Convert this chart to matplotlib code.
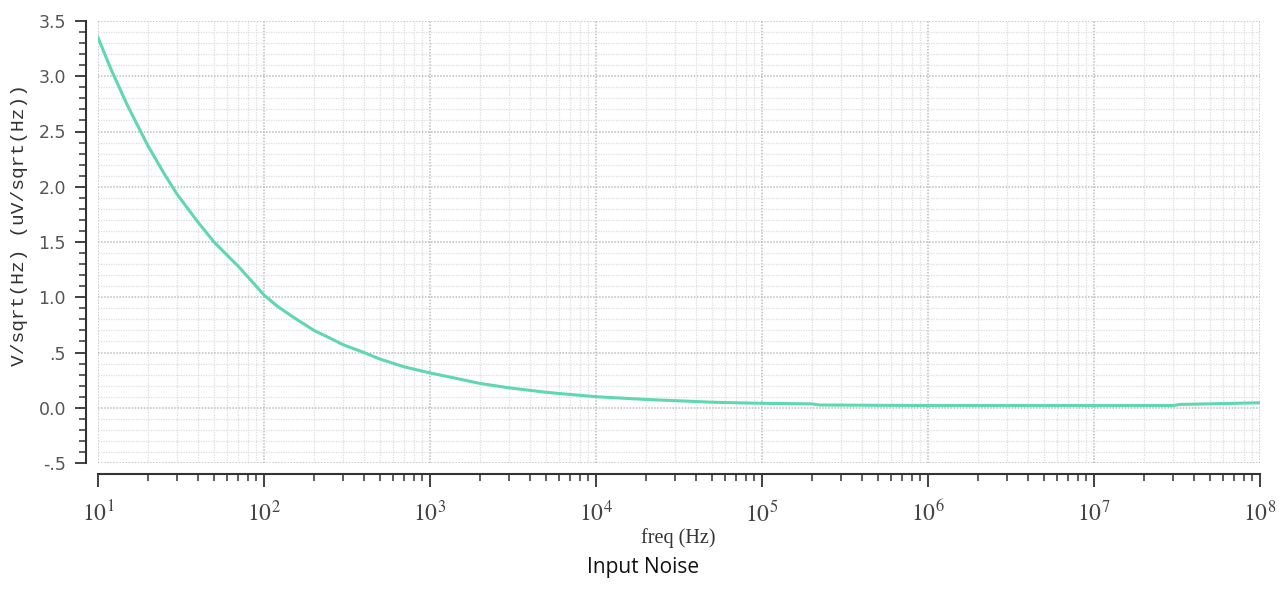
import matplotlib.pyplot as plt
from matplotlib.ticker import FixedLocator, FixedFormatter, LogLocator, NullFormatter

# Input-referred noise
freq = [10, 12, 15, 20, 25, 30, 40, 50, 60, 70, 85, 100, 120, 150, 200, 250, 300, 400,
        500, 700, 1e3, 1.5e3, 2e3, 3e3, 5e3, 7e3, 1e4, 2e4, 3.5e4, 5e4, 7e4, 1e5,
        2e5, 2.2e5, 5e5, 1e6, 1e7, 3e7, 3.3e7, 7e7, 1e8]
noise = [3.35, 3.06, 2.74, 2.37, 2.12, 1.93, 1.68, 1.50, 1.38, 1.28, 1.14, 1.02, 0.92,
         0.82, 0.70, 0.63, 0.57, 0.50, 0.44, 0.37, 0.315, 0.26, 0.22, 0.18, 0.14,
         0.12, 0.10, 0.075, 0.06, 0.05, 0.045, 0.04, 0.035, 0.025, 0.022, 0.02,
         0.02, 0.02, 0.03, 0.04, 0.045]

y_ticks = [3.5, 3.0, 2.5, 2.0, 1.5, 1.0, 0.5, 0.0, -0.5]
y_labels = ['3.5', '3.0', '2.5', '2.0', '1.5', '1.0', '.5', '0.0', '-.5']
x_ticks = [1e1, 1e2, 1e3, 1e4, 1e5, 1e6, 1e7, 1e8]
x_labels = ['$10^{%d}$' % i for i in range(1, 9)]

plt.rcParams['mathtext.fontset'] = 'stix'

fig = plt.figure(figsize=(12.87, 5.95), dpi=100)
W, H = 1287, 595
ax = fig.add_axes([98 / W, 1 - 463 / H, (1260 - 98) / W, (463 - 21) / H])

ax.plot(freq, noise, color='#5fd7b2', lw=2.2)

ax.set_xscale('log')
ax.set_xlim(10, 1e8)
ax.set_ylim(-0.5, 3.5)

ax.xaxis.set_major_locator(FixedLocator(x_ticks))
ax.xaxis.set_major_formatter(FixedFormatter(x_labels))
ax.xaxis.set_minor_locator(LogLocator(base=10, subs=range(2, 10), numticks=20))
ax.xaxis.set_minor_formatter(NullFormatter())

ax.yaxis.set_major_locator(FixedLocator(y_ticks))
ax.yaxis.set_major_formatter(FixedFormatter(y_labels))
ax.yaxis.set_minor_locator(FixedLocator([i / 10 for i in range(-5, 36)]))

# grid
ax.grid(which='major', color='#bdbdbd', linestyle=(0, (1, 1)), lw=1.1)
ax.grid(which='minor', color='#dedede', linestyle=(0, (1, 1)), lw=0.9)

# detached axis lines like the simulator
for s in ['top', 'right']:
    ax.spines[s].set_visible(False)
ax.spines['left'].set_position(('outward', 9))
ax.spines['bottom'].set_position(('outward', 8))
ax.spines['left'].set_linewidth(1.5)
ax.spines['bottom'].set_linewidth(1.5)
ax.spines['left'].set_color('#333333')
ax.spines['bottom'].set_color('#333333')

ax.tick_params(axis='y', which='major', length=8, width=1.3, labelsize=12.5,
               colors='#333333', labelcolor='#555555', pad=6)
ax.tick_params(axis='y', which='minor', length=5, width=1.1, colors='#333333')
ax.tick_params(axis='x', which='major', length=9, width=1.3, labelsize=17,
               colors='#333333', labelcolor='#444444', pad=10)
ax.tick_params(axis='x', which='minor', length=5, width=1.1, colors='#333333')

ax.set_ylabel('V/sqrt(Hz) (uV/sqrt(Hz))', family='Liberation Mono', fontsize=14,
              color='#333333')
ax.yaxis.set_label_coords(-(98 - 20) / (1260 - 98), (463 - 225) / (463 - 21))
ax.set_xlabel('freq (Hz)', family='Liberation Serif', fontsize=14.5,
              color='#333333')
ax.xaxis.set_label_coords((678 - 98) / (1260 - 98), -(538 - 463) / (463 - 21))
ax.xaxis.label.set_va('center')
ax.yaxis.label.set_va('center')

fig.text(0.5, 1 - 567 / H, 'Input Noise', ha='center', va='center',
         family='Open Sans', fontsize=15, color='#111111')

plt.savefig('out.png', dpi=100)
